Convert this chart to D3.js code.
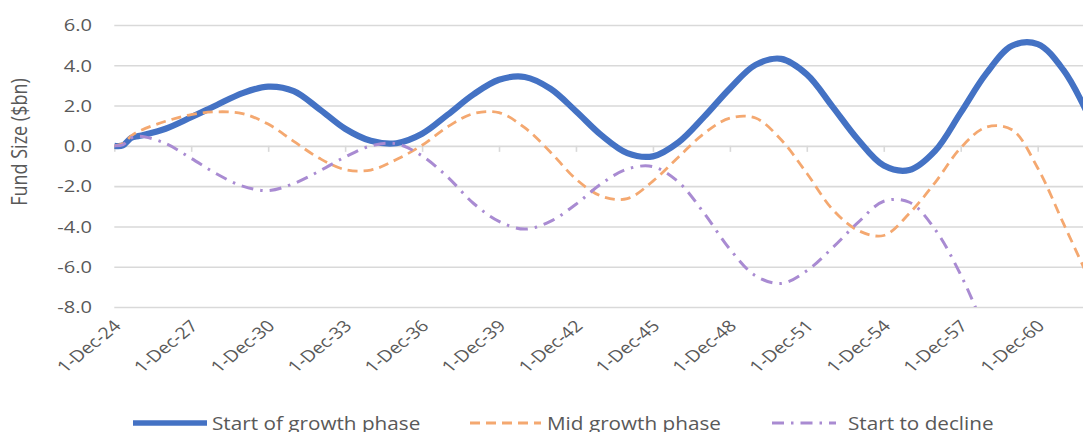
<!DOCTYPE html>
<html>
<head>
<meta charset="utf-8">
<script src="https://cdn.jsdelivr.net/npm/d3@7/dist/d3.min.js"></script>
<style>
  html, body { margin: 0; padding: 0; background: #ffffff; }
  svg { display: block; font-family: "Open Sans", "Noto Sans", sans-serif; }
</style>
</head>
<body>
<svg id="chart" width="1083" height="432"></svg>
<script>
// Observation dates (first year sampled more finely, then yearly on 1 December)
const dates = [
  "2024-12-01", "2025-04-01", "2025-08-01", "2025-12-01", "2026-12-01",
  "2027-12-01", "2028-12-01", "2029-12-01", "2030-12-01", "2031-12-01",
  "2032-12-01", "2033-12-01", "2034-12-01", "2035-12-01", "2036-12-01",
  "2037-12-01", "2038-12-01", "2039-12-01", "2040-12-01", "2041-12-01",
  "2042-12-01", "2043-12-01", "2044-12-01", "2045-12-01", "2046-12-01",
  "2047-12-01", "2048-12-01", "2049-12-01", "2050-12-01", "2051-12-01",
  "2052-12-01", "2053-12-01", "2054-12-01", "2055-12-01", "2056-12-01",
  "2057-12-01", "2058-12-01", "2059-12-01", "2060-12-01", "2061-12-01",
  "2062-12-01"
];

// Fund size ($bn) for each scenario
const startOfGrowth = [
  0, 0.02, 0.40, 0.50, 0.85, 1.42, 2.03, 2.62, 2.94, 2.72,
  1.82, 0.85, 0.25, 0.13, 0.60, 1.55, 2.55, 3.28, 3.42, 2.84,
  1.72, 0.52, -0.36, -0.52, 0.18, 1.45, 2.85, 4.02, 4.32, 3.55,
  1.95, 0.30, -0.98, -1.20, -0.25, 1.65, 3.60, 4.97, 5.05, 3.77,
  1.45
];
const midGrowth = [
  0, 0.10, 0.50, 0.75, 1.22, 1.55, 1.69, 1.60, 1.08, 0.22,
  -0.62, -1.18, -1.20, -0.68, 0.03, 0.95, 1.60, 1.65, 0.90, -0.30,
  -1.65, -2.50, -2.62, -1.75, -0.55, 0.62, 1.38, 1.38, 0.30, -1.36,
  -3.15, -4.20, -4.45, -3.35, -1.82, -0.10, 0.93, 0.80, -1.10, -3.84,
  -6.60
];
const startToDecline = [
  0, 0.05, 0.40, 0.48, 0.12, -0.62, -1.40, -2.00, -2.22, -1.87,
  -1.25, -0.55, 0.00, 0.10, -0.50, -1.55, -2.85, -3.75, -4.13, -3.75,
  -2.90, -1.87, -1.15, -1.03, -1.80, -3.35, -5.13, -6.45, -6.83, -6.20,
  -5.06, -3.80, -2.75, -2.80, -4.15, -6.40, -9.20, -11.50, null, null,
  null
];

const seriesNames = ["Start of growth phase", "Mid growth phase", "Start to decline"];

// Axis ticks
const xTickDates = [
  "2024-12-01", "2027-12-01", "2030-12-01", "2033-12-01", "2036-12-01",
  "2039-12-01", "2042-12-01", "2045-12-01", "2048-12-01", "2051-12-01",
  "2054-12-01", "2057-12-01", "2060-12-01"
];
const yTicks = [6, 4, 2, 0, -2, -4, -6, -8];

// ---- layout / styling ----
const parse = d3.utcParse("%Y-%m-%d");
const fmtDate = d3.utcFormat("%-d-%b-%y");
const SX = 1.22;              // horizontal text stretch
const TEXT = "#595959";
const GRID = "#d9d9d9";
const plot = { left: 114.3, top: 25, bottom: 307, right: 1110 };

const styles = [
  { color: "#4472c4", width: 6.2, dash: null },
  { color: "#f4a870", width: 2.8, dash: "10,6" },
  { color: "#a98bd2", width: 3,   dash: "12,7,2.5,7" }
];

const svg = d3.select("#chart");

const x = d3.scaleUtc()
  .domain([parse("2024-12-01"), parse("2060-12-01")])
  .range([114.3, 1037.7]);
const y = d3.scaleLinear().domain([-8, 6]).range([plot.bottom, plot.top]);

// Horizontal gridlines
const grid = svg.append("g")
  .attr("transform", `translate(${plot.left},0)`)
  .call(d3.axisLeft(y).tickValues(yTicks).tickSize(-(plot.right - plot.left)).tickFormat(""));
grid.select(".domain").remove();
grid.selectAll("line").attr("stroke", GRID).attr("stroke-width", 1.6);

// Y tick labels
const gy = svg.append("g")
  .attr("transform", "translate(92,0)")
  .call(d3.axisLeft(y).tickValues(yTicks).tickSize(0).tickFormat(d => d.toFixed(1)));
gy.select(".domain").remove();
gy.selectAll("text")
  .attr("x", 0).attr("dy", "0.35em")
  .attr("transform", `scale(${SX},1)`)
  .attr("fill", TEXT)
  .style("font-size", "16.5px")
  .style("font-family", "'Open Sans', sans-serif")
  .attr("text-anchor", "end");

// X tick marks hang below the zero line
const gx = svg.append("g")
  .attr("transform", `translate(0,${y(0)})`)
  .call(d3.axisBottom(x).tickValues(xTickDates.map(parse)).tickSize(6).tickFormat(""));
gx.select(".domain").remove();
gx.selectAll("line").attr("stroke", GRID).attr("stroke-width", 1.6);

// Rotated date labels below the plot
svg.append("g").selectAll("text")
  .data(xTickDates.map(parse))
  .join("text")
  .attr("transform", d => `translate(${x(d) + 3},323) scale(${SX},1) rotate(-45)`)
  .attr("text-anchor", "end")
  .attr("dy", "0.35em")
  .attr("fill", TEXT)
  .style("font-size", "16px")
  .text(d => fmtDate(d));

// Y axis title
svg.append("text")
  .attr("transform", `translate(19,142) scale(${SX},1) rotate(-90)`)
  .attr("text-anchor", "middle")
  .attr("dy", "0.35em")
  .attr("fill", TEXT)
  .style("font-size", "18px")
  .text("Fund Size ($bn)");

// Series lines, clipped to the plot area
svg.append("clipPath").attr("id", "plot-clip")
  .append("rect")
  .attr("x", plot.left).attr("y", plot.top - 10)
  .attr("width", plot.right - plot.left).attr("height", plot.bottom - plot.top + 10);

const dateObjs = dates.map(parse);
const seriesValues = [startOfGrowth, midGrowth, startToDecline];

const line = d3.line()
  .defined(d => d.v !== null)
  .x(d => x(d.date))
  .y(d => y(d.v))
  .curve(d3.curveCatmullRom.alpha(0.5));

const lines = svg.append("g").attr("clip-path", "url(#plot-clip)");
seriesValues.forEach((vals, i) => {
  const pts = vals.map((v, j) => ({ date: dateObjs[j], v }));
  lines.append("path")
    .datum(pts)
    .attr("fill", "none")
    .attr("stroke", styles[i].color)
    .attr("stroke-width", styles[i].width)
    .attr("stroke-dasharray", styles[i].dash)
    .attr("stroke-linejoin", "round")
    .attr("d", line);
});

// Legend
const legendItems = [
  { x1: 133, x2: 207, tx: 212 },
  { x1: 470, x2: 541, tx: 547 },
  { x1: 772, x2: 836, tx: 848 }
];
const legend = svg.append("g");
legendItems.forEach((it, i) => {
  legend.append("line")
    .attr("x1", it.x1).attr("x2", it.x2)
    .attr("y1", 423).attr("y2", 423)
    .attr("stroke", styles[i].color)
    .attr("stroke-width", i === 0 ? 5.5 : 3)
    .attr("stroke-dasharray", styles[i].dash);
  legend.append("text")
    .attr("transform", `translate(${it.tx},430) scale(1.12,1)`)
    .attr("fill", TEXT)
    .style("font-size", "18.5px")
    .text(seriesNames[i]);
});
</script>
</body>
</html>
